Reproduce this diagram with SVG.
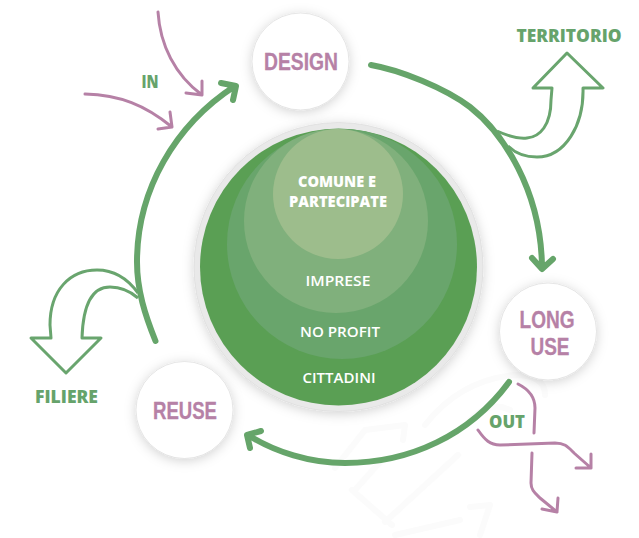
<svg xmlns="http://www.w3.org/2000/svg" width="639" height="538" viewBox="0 0 639 538">
<defs>
<filter id="sh" x="-30%" y="-30%" width="160%" height="160%"><feDropShadow dx="0" dy="2" stdDeviation="6" flood-color="#000" flood-opacity="0.18"/></filter>
</defs>
<style>
text{font-family:"Open Sans","Liberation Sans",sans-serif;font-weight:700;text-anchor:middle}
.node{fill:#fff;stroke:#d6d6d6;stroke-width:.6;filter:url(#sh)}
.np{fill:#b681a6;font-family:"Liberation Sans",Arial,sans-serif;font-size:23px;font-weight:700;stroke:#b681a6;stroke-width:.3}
.lg{fill:#66a36b;font-size:17.500px;font-weight:800}
.in{fill:#fff;font-size:15px;font-weight:600}
.strong{font-weight:800}
.big{fill:none;stroke:#66a56a;stroke-width:6;stroke-linecap:round;stroke-linejoin:round}
.out{fill:#fff;stroke:#69a56e;stroke-width:3;stroke-linejoin:round}
.pink{fill:none;stroke:#b681a6;stroke-width:3;stroke-linecap:round;stroke-linejoin:round}
.wm{fill:none;stroke:#fbfbfb;stroke-width:6;stroke-linecap:round;stroke-linejoin:round}
</style>
<g id="watermark">
<path class="wm" d="M335,468 L365,430 L405,425 L403,440"/>
<path class="wm" d="M352,490 L392,525 M355,490 L380,462 M385,522 L458,455 M395,535 L460,520 M470,507 L490,505 L480,535"/>
<path class="wm" d="M425,425 Q460,380 515,375 Q545,375 545,395 M470,420 Q490,400 510,410"/>
</g>
<g id="center">
<circle cx="338.500" cy="267" r="144.500" fill="#e9e9e9" stroke="#d9d9d9" stroke-width=".6" filter="url(#sh)"/>
<circle cx="338.500" cy="267" r="138.500" fill="#5a9f54"/>
<circle cx="342" cy="244" r="115" fill="#69a56c"/>
<circle cx="336" cy="221" r="92" fill="#80b07c"/>
<circle cx="338" cy="194" r="65" fill="#9dbd8c"/>
<text class="in strong" x="337" y="187" textLength="78" lengthAdjust="spacingAndGlyphs">COMUNE E</text>
<text class="in strong" x="338" y="207" textLength="98" lengthAdjust="spacingAndGlyphs">PARTECIPATE</text>
<text class="in" x="338" y="286" textLength="65" lengthAdjust="spacingAndGlyphs">IMPRESE</text>
<text class="in" x="340" y="337" textLength="80" lengthAdjust="spacingAndGlyphs">NO PROFIT</text>
<text class="in" x="339" y="383" textLength="73" lengthAdjust="spacingAndGlyphs">CITTADINI</text>
</g>
<g id="connectors">
<path class="out" d="M497,131 C510,137 518,139 527,138 C540,137 551,125 551,100 L552,88 L533,88 L567,53 L603,88 L583,88 C584,125 565,157 537,157 C525,157 515,153 508,146"/>
<path class="out" d="M138,293 C125,275 110,270 97,270 C70,270 50,290 50,325 L51,338 L31,338 L66,373 L101,338 L82,338 C83,305 92,287 110,287 C120,287 130,291 138,298"/>
<path class="big" d="M371,65 C400,70 445,88 470,107 C503,133 541,190 542,267 M532,258 L542,269 L553,259"/>
<path class="big" d="M509,382 C470,435 410,463 345,463 C310,463 275,452 248,435 M261,431 L247,435 L250,448"/>
<path class="big" d="M155.500,341 C145,315 137,290 137,262 C137,190 175,125 235,86 M221,83 L236,86 L233,100"/>
<path class="pink" d="M158,12 C160,45 175,75 202,95 M186,93 L202,95 L202,81"/>
<path class="pink" d="M85,94 C120,95 145,105 172,127 M158,129 L172,127 L170,112"/>
<path class="pink" d="M518,384 C530,390 535,398 535,408 L534,433"/>
<path class="pink" d="M478,430 C485,440 490,445 500,445 L555,443 C565,443 568,447 574,453 L591,468 M576,468 L591,468 L591,454"/>
<path class="pink" d="M532,453 L531,483 C531,490 535,493 540,498 L557,512 M542,509 L557,512 L558,498"/>
</g>
<g id="design"><circle class="node" cx="300.500" cy="61.500" r="48.500"/><text class="np" x="301" y="70" textLength="74" lengthAdjust="spacingAndGlyphs">DESIGN</text></g>
<g id="long-use"><circle class="node" cx="548" cy="331.500" r="48.500"/><text class="np" x="547" y="328" textLength="55" lengthAdjust="spacingAndGlyphs">LONG</text><text class="np" x="550" y="355" textLength="39" lengthAdjust="spacingAndGlyphs">USE</text></g>
<g id="reuse"><circle class="node" cx="184.500" cy="410" r="48.500"/><text class="np" x="185" y="419" textLength="64" lengthAdjust="spacingAndGlyphs">REUSE</text></g>
<g id="labels">
<text class="lg" x="150" y="88" textLength="17" lengthAdjust="spacingAndGlyphs">IN</text>
<text class="lg" x="569" y="42" textLength="105" lengthAdjust="spacingAndGlyphs">TERRITORIO</text>
<text class="lg" x="66.500" y="403" textLength="63" lengthAdjust="spacingAndGlyphs">FILIERE</text>
<text class="lg" x="507" y="428" textLength="36" lengthAdjust="spacingAndGlyphs">OUT</text>
</g>
</svg>
